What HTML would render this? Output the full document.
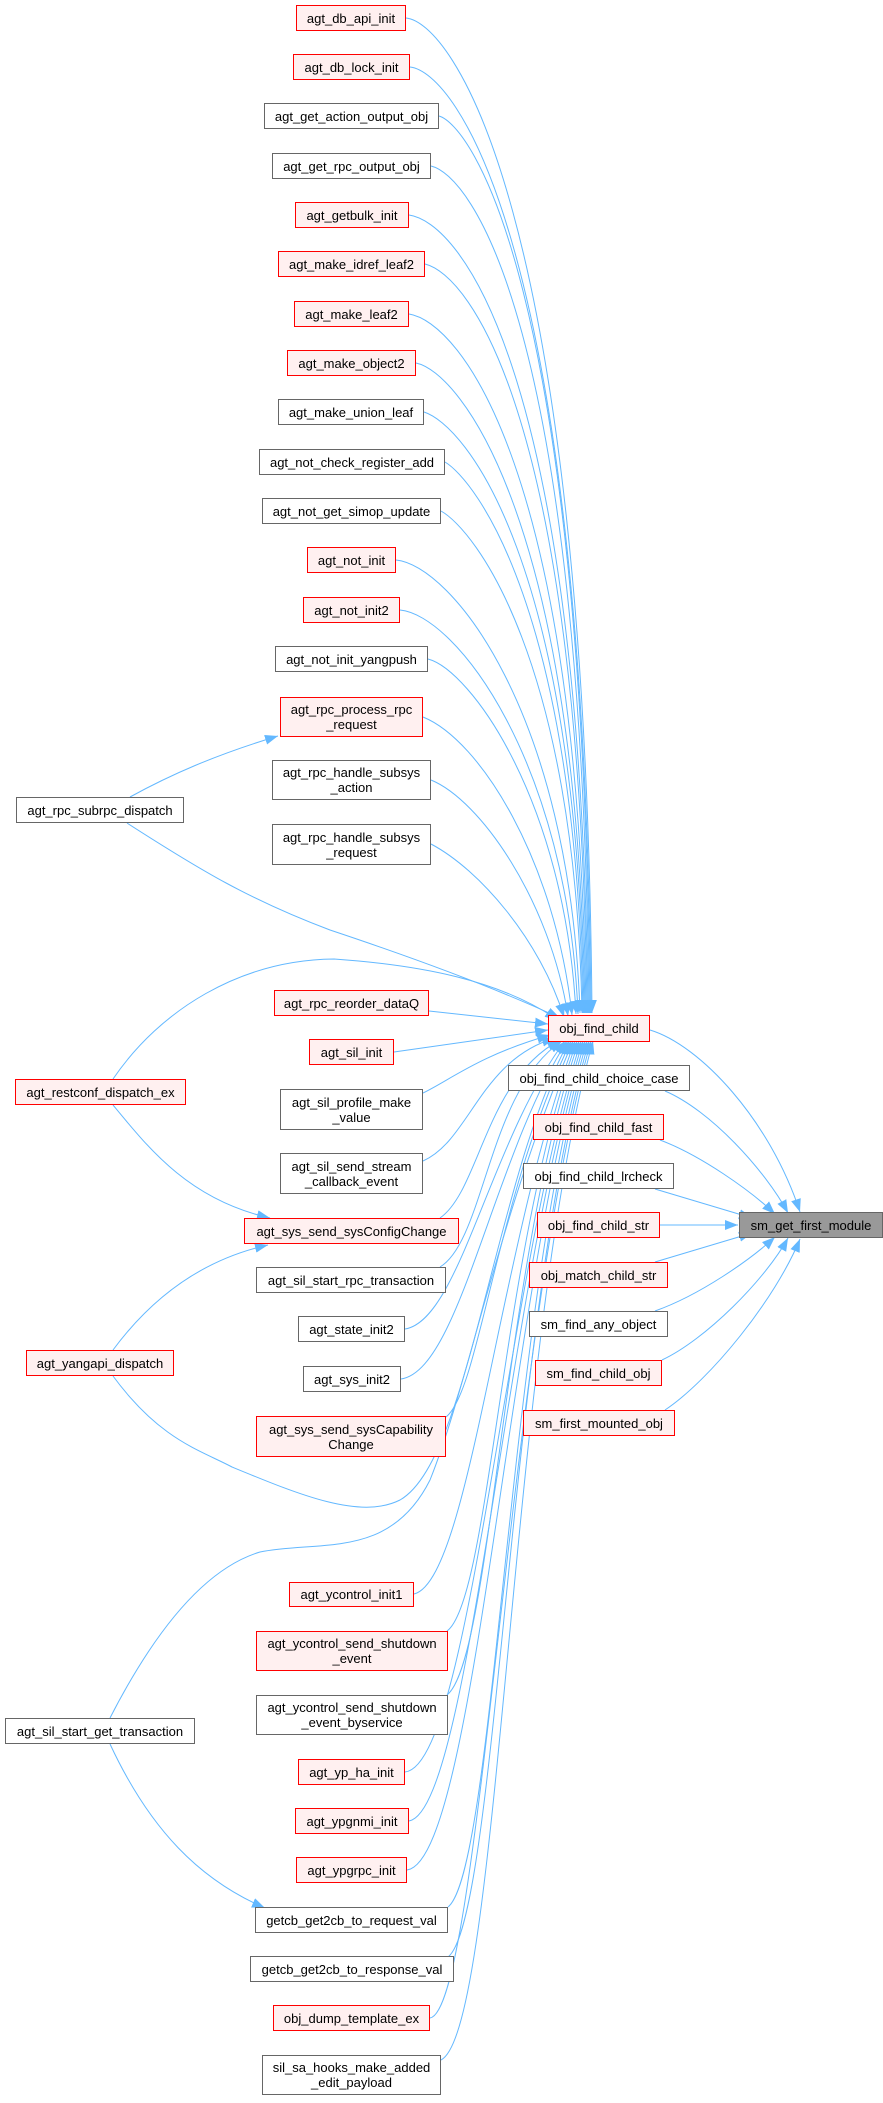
<!DOCTYPE html>
<html><head><meta charset="utf-8"><style>
body{margin:0;width:883px;height:2103px;background:#fff;position:relative;overflow:hidden}
.n{position:absolute;box-sizing:border-box;border:1px solid #666;background:#fff;font:13px "Liberation Sans",sans-serif;color:#000;text-align:center;display:flex;align-items:center;justify-content:center;line-height:15px;white-space:nowrap}
.r{border-color:#f00;background:#fff0f0}
.g{background:#999}
svg{position:absolute;left:0;top:0}
</style></head><body>
<svg width="883" height="2103" viewBox="0 0 883 2103">
<defs><marker id="a" markerUnits="userSpaceOnUse" markerWidth="14" markerHeight="12" refX="13" refY="5" orient="auto"><path d="M0,0 L13,5 L0,10 z" fill="#63b8ff"/></marker></defs>
<g fill="none" stroke="#63b8ff" stroke-width="1" marker-end="url(#a)">
<path d="M406,18 C450,22 585,200 592,1013"/>
<path d="M410,67 C455,72 584,240 591,1013"/>
<path d="M439,116 C470,125 583,280 590,1013"/>
<path d="M431,166 C470,175 582,320 589,1013"/>
<path d="M409,215 C460,222 581,370 588,1013"/>
<path d="M425,264 C470,275 580,420 587,1013"/>
<path d="M409,314 C460,322 579,470 586,1013"/>
<path d="M416,363 C460,372 578,520 585,1013"/>
<path d="M424,412 C465,425 577,560 584,1013"/>
<path d="M445,462 C475,480 576,610 583,1013"/>
<path d="M441,511 C475,530 575,660 582,1013"/>
<path d="M396,560 C450,565 570,710 580,1013"/>
<path d="M400,610 C455,615 568,760 578,1014"/>
<path d="M428,659 C470,670 565,800 576,1014"/>
<path d="M423,717 C480,740 555,860 572,1015"/>
<path d="M431,780 C480,800 550,900 568,1016"/>
<path d="M431,844 C480,870 540,940 564,1017"/>
<path d="M127,823 C200,870 250,900 330,930 C420,960 500,990 560,1018"/>
<path d="M113,1079 C160,1010 240,960 334,959 C420,965 500,980 558,1020"/>
<path d="M429,1011 L548,1024"/>
<path d="M394,1052 L548,1030"/>
<path d="M423,1093 C450,1080 480,1055 550,1035"/>
<path d="M423,1161 C470,1140 480,1060 555,1038"/>
<path d="M440,1218 C480,1190 485,1080 560,1040"/>
<path d="M440,1267 C485,1240 488,1090 562,1041"/>
<path d="M405,1329 C460,1320 490,1140 565,1041"/>
<path d="M401,1379 C460,1370 492,1160 567,1041"/>
<path d="M113,1376 C160,1440 200,1450 232,1467 C300,1495 360,1520 400,1500 C470,1460 494,1180 569,1041"/>
<path d="M446,1417 C480,1390 495,1200 571,1041"/>
<path d="M110,1718 C150,1640 200,1570 260,1552 C320,1540 390,1560 430,1480 C470,1380 497,1220 573,1041"/>
<path d="M414,1594 C470,1580 499,1240 575,1041"/>
<path d="M447,1631 C490,1600 501,1250 577,1041"/>
<path d="M447,1695 C492,1660 503,1260 579,1041"/>
<path d="M405,1772 C470,1765 505,1280 581,1041"/>
<path d="M409,1821 C470,1810 506,1290 583,1041"/>
<path d="M407,1870 C475,1860 507,1300 585,1041"/>
<path d="M448,1907 C495,1870 508,1310 587,1041"/>
<path d="M448,1957 C497,1920 509,1320 589,1041"/>
<path d="M430,2018 C480,2010 509,1330 591,1041"/>
<path d="M441,2060 C500,2030 510,1340 593,1041"/>
<path d="M130,797 C170,775 215,755 278,736"/>
<path d="M113,1105 C150,1150 190,1200 270,1218"/>
<path d="M113,1350 C150,1300 200,1260 268,1245"/>
<path d="M110,1744 C150,1830 200,1880 265,1908"/>
<path d="M650,1030 C700,1045 770,1120 800,1212"/>
<path d="M665,1091 C710,1110 765,1170 788,1213"/>
<path d="M660,1140 C700,1155 750,1190 775,1214"/>
<path d="M655,1189 L752,1218"/>
<path d="M660,1225 L738,1225"/>
<path d="M655,1262 L752,1233"/>
<path d="M655,1311 C700,1295 750,1260 775,1237"/>
<path d="M662,1360 C705,1340 765,1280 788,1238"/>
<path d="M665,1410 C710,1380 775,1300 800,1239"/>
</g></svg>
<div class="n r" style="left:296px;top:5px;width:110px;height:26px">agt_db_api_init</div>
<div class="n r" style="left:293px;top:54px;width:117px;height:26px">agt_db_lock_init</div>
<div class="n" style="left:264px;top:103px;width:175px;height:26px">agt_get_action_output_obj</div>
<div class="n" style="left:272px;top:153px;width:159px;height:26px">agt_get_rpc_output_obj</div>
<div class="n r" style="left:295px;top:202px;width:114px;height:26px">agt_getbulk_init</div>
<div class="n r" style="left:278px;top:251px;width:147px;height:26px">agt_make_idref_leaf2</div>
<div class="n r" style="left:294px;top:301px;width:115px;height:26px">agt_make_leaf2</div>
<div class="n r" style="left:287px;top:350px;width:129px;height:26px">agt_make_object2</div>
<div class="n" style="left:278px;top:399px;width:146px;height:26px">agt_make_union_leaf</div>
<div class="n" style="left:259px;top:449px;width:186px;height:26px">agt_not_check_register_add</div>
<div class="n" style="left:262px;top:498px;width:179px;height:26px">agt_not_get_simop_update</div>
<div class="n r" style="left:307px;top:547px;width:89px;height:26px">agt_not_init</div>
<div class="n r" style="left:303px;top:597px;width:97px;height:26px">agt_not_init2</div>
<div class="n" style="left:275px;top:646px;width:153px;height:26px">agt_not_init_yangpush</div>
<div class="n r" style="left:280px;top:697px;width:143px;height:40px">agt_rpc_process_rpc<br>_request</div>
<div class="n" style="left:272px;top:760px;width:159px;height:40px">agt_rpc_handle_subsys<br>_action</div>
<div class="n" style="left:272px;top:824px;width:159px;height:41px">agt_rpc_handle_subsys<br>_request</div>
<div class="n" style="left:16px;top:797px;width:168px;height:26px">agt_rpc_subrpc_dispatch</div>
<div class="n r" style="left:274px;top:990px;width:155px;height:26px">agt_rpc_reorder_dataQ</div>
<div class="n r" style="left:548px;top:1015px;width:102px;height:27px">obj_find_child</div>
<div class="n r" style="left:309px;top:1039px;width:85px;height:26px">agt_sil_init</div>
<div class="n" style="left:508px;top:1065px;width:182px;height:26px">obj_find_child_choice_case</div>
<div class="n r" style="left:15px;top:1079px;width:171px;height:26px">agt_restconf_dispatch_ex</div>
<div class="n" style="left:280px;top:1089px;width:143px;height:41px">agt_sil_profile_make<br>_value</div>
<div class="n r" style="left:533px;top:1114px;width:131px;height:26px">obj_find_child_fast</div>
<div class="n" style="left:280px;top:1153px;width:143px;height:41px">agt_sil_send_stream<br>_callback_event</div>
<div class="n" style="left:523px;top:1163px;width:151px;height:26px">obj_find_child_lrcheck</div>
<div class="n g" style="left:739px;top:1212px;width:144px;height:26px">sm_get_first_module</div>
<div class="n r" style="left:537px;top:1212px;width:123px;height:26px">obj_find_child_str</div>
<div class="n r" style="left:244px;top:1218px;width:215px;height:26px">agt_sys_send_sysConfigChange</div>
<div class="n" style="left:256px;top:1267px;width:190px;height:26px">agt_sil_start_rpc_transaction</div>
<div class="n r" style="left:529px;top:1262px;width:139px;height:26px">obj_match_child_str</div>
<div class="n" style="left:298px;top:1316px;width:107px;height:26px">agt_state_init2</div>
<div class="n" style="left:529px;top:1311px;width:139px;height:26px">sm_find_any_object</div>
<div class="n r" style="left:26px;top:1350px;width:148px;height:26px">agt_yangapi_dispatch</div>
<div class="n r" style="left:535px;top:1360px;width:127px;height:26px">sm_find_child_obj</div>
<div class="n" style="left:303px;top:1366px;width:98px;height:26px">agt_sys_init2</div>
<div class="n r" style="left:523px;top:1410px;width:152px;height:26px">sm_first_mounted_obj</div>
<div class="n r" style="left:256px;top:1416px;width:190px;height:41px">agt_sys_send_sysCapability<br>Change</div>
<div class="n r" style="left:289px;top:1582px;width:125px;height:25px">agt_ycontrol_init1</div>
<div class="n r" style="left:256px;top:1631px;width:192px;height:40px">agt_ycontrol_send_shutdown<br>_event</div>
<div class="n" style="left:256px;top:1695px;width:192px;height:40px">agt_ycontrol_send_shutdown<br>_event_byservice</div>
<div class="n" style="left:5px;top:1718px;width:190px;height:26px">agt_sil_start_get_transaction</div>
<div class="n r" style="left:298px;top:1759px;width:107px;height:26px">agt_yp_ha_init</div>
<div class="n r" style="left:295px;top:1808px;width:114px;height:26px">agt_ypgnmi_init</div>
<div class="n r" style="left:296px;top:1857px;width:111px;height:26px">agt_ypgrpc_init</div>
<div class="n" style="left:255px;top:1907px;width:193px;height:26px">getcb_get2cb_to_request_val</div>
<div class="n" style="left:250px;top:1956px;width:204px;height:26px">getcb_get2cb_to_response_val</div>
<div class="n r" style="left:273px;top:2005px;width:157px;height:26px">obj_dump_template_ex</div>
<div class="n" style="left:262px;top:2055px;width:179px;height:40px">sil_sa_hooks_make_added<br>_edit_payload</div>
</body></html>
